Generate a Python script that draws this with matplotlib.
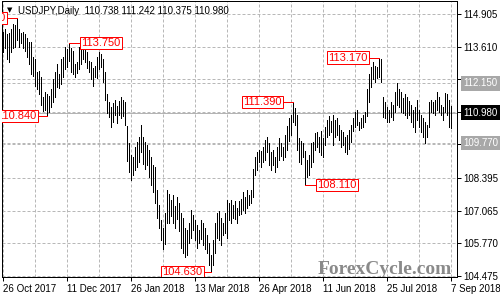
import matplotlib
matplotlib.use('Agg')
import matplotlib.pyplot as plt
from matplotlib.transforms import blended_transform_factory

symbol = 'USDJPY,Daily'
last_ohlc = ['110.738', '111.242', '110.375', '110.980']

# daily high / low, one per trading day from 26 Oct 2017 to 7 Sep 2018
highs = [
    114.20, 114.30, 114.10, 114.15, 114.30, 114.50, 114.45, 114.73, 114.30, 114.15,
    114.20, 114.10, 113.95, 113.80, 113.80, 113.20, 113.10, 112.60, 112.65, 112.40,
    111.60, 111.80, 111.70, 111.65, 111.90, 112.30, 112.60, 112.90, 112.50, 113.10,
    113.20, 113.60, 113.50, 113.75, 113.55, 113.45, 112.90, 113.00, 113.60, 113.50,
    113.65, 113.55, 113.40, 113.05, 113.00, 112.75, 112.85, 113.20, 113.40, 113.30,
    113.10, 112.60, 111.70, 111.40, 111.20, 111.35, 111.50, 111.25, 111.45, 111.60,
    111.50, 111.40, 110.45, 109.75, 109.30, 109.20, 109.60, 109.80, 110.00, 110.48,
    110.00, 109.80, 109.70, 109.50, 109.20, 108.90, 108.80, 107.90, 107.30, 106.70,
    106.40, 107.00, 107.90, 107.75, 107.50, 107.70, 107.25, 107.60, 107.40, 107.00,
    106.80, 106.40, 106.30, 106.60, 107.10, 106.90, 106.70, 106.50, 106.30, 106.70,
    106.60, 106.40, 106.10, 105.80, 105.30, 105.90, 106.60, 107.00, 107.05, 106.80,
    106.60, 107.00, 107.50, 107.40, 107.50, 107.30, 107.45, 107.20, 107.45, 107.55,
    107.80, 107.60, 107.90, 107.70, 107.90, 108.75, 109.20, 109.40, 109.50, 109.45,
    109.60, 109.90, 110.00, 109.75, 109.40, 109.50, 109.20, 109.60, 109.95, 109.75,
    109.60, 110.10, 110.45, 110.75, 110.90, 111.39, 111.15, 110.90, 109.95, 109.85,
    109.75, 109.45, 109.10, 109.30, 109.75, 109.80, 110.15, 110.20, 110.00, 110.25,
    109.95, 110.40, 110.70, 110.85, 110.65, 110.90, 110.70, 110.75, 110.50, 110.30,
    110.20, 110.00, 110.10, 110.30, 110.50, 110.75, 111.00, 111.10, 110.60, 110.75,
    110.90, 111.00, 111.90, 112.50, 112.80, 113.00, 112.85, 112.80, 113.17, 113.10,
    111.60, 111.40, 111.20, 111.10, 111.40, 111.30, 111.80, 112.15, 111.90, 111.80,
    111.55, 111.70, 111.60, 111.45, 111.30, 111.10, 111.20, 111.50, 111.10, 110.90,
    110.75, 110.60, 110.50, 111.40, 111.50, 111.40, 111.50, 111.80, 111.60, 111.30,
    111.20, 111.75, 111.70, 111.50, 111.24,
]
lows = [
    113.40, 113.55, 113.10, 113.00, 113.40, 113.55, 113.60, 113.85, 113.60, 113.75,
    113.55, 113.45, 113.20, 112.90, 112.50, 112.45, 112.05, 111.90, 111.70, 111.30,
    111.05, 111.10, 110.84, 111.00, 111.20, 111.40, 111.60, 112.00, 111.95, 112.10,
    112.40, 112.70, 112.80, 113.05, 112.60, 112.50, 112.40, 112.55, 112.70, 112.90,
    113.10, 113.00, 112.75, 112.60, 112.30, 112.05, 112.40, 112.35, 112.70, 112.80,
    112.20, 111.50, 110.95, 110.80, 110.40, 110.60, 110.90, 110.55, 110.90, 110.75,
    110.85, 110.50, 109.05, 108.60, 108.28, 108.50, 108.70, 108.80, 109.00, 109.40,
    108.95, 108.75, 108.90, 108.40, 108.10, 107.80, 107.40, 106.80, 106.40, 105.90,
    105.55, 105.75, 106.60, 106.60, 106.85, 106.60, 106.40, 106.75, 106.25, 105.60,
    105.40, 105.24, 105.30, 105.80, 106.00, 106.30, 105.90, 105.60, 105.80, 105.95,
    105.70, 105.55, 105.40, 104.90, 104.63, 104.90, 105.40, 106.00, 105.90, 105.70,
    106.10, 106.20, 106.00, 106.70, 106.60, 106.80, 106.75, 106.60, 106.90, 106.95,
    107.10, 107.00, 107.20, 107.30, 107.40, 107.60, 108.50, 108.70, 109.00, 108.80,
    109.00, 109.10, 109.40, 108.90, 108.70, 108.90, 108.60, 108.80, 109.10, 109.25,
    109.10, 109.20, 109.50, 109.85, 110.10, 110.60, 110.50, 109.50, 109.00, 108.95,
    109.20, 108.11, 108.40, 108.50, 108.80, 109.00, 109.50, 109.60, 109.40, 109.30,
    109.20, 109.70, 110.00, 110.10, 110.20, 109.70, 110.00, 110.10, 109.90, 109.60,
    109.70, 109.40, 109.35, 109.55, 109.80, 110.25, 110.40, 110.50, 110.30, 110.35,
    110.40, 110.60, 110.85, 111.40, 112.00, 112.30, 112.20, 112.35, 112.40, 112.20,
    110.80, 110.75, 110.60, 110.60, 110.80, 110.70, 111.00, 111.30, 111.20, 111.00,
    110.95, 110.90, 110.75, 110.90, 110.60, 110.40, 110.20, 110.70, 110.40, 110.20,
    110.00, 109.77, 110.00, 110.40, 111.00, 110.95, 110.90, 111.10, 111.00, 110.90,
    110.70, 111.00, 110.90, 110.40, 110.38,
]

date_labels = ['26 Oct 2017', '11 Dec 2017', '26 Jan 2018', '13 Mar 2018',
               '26 Apr 2018', '11 Jun 2018', '25 Jul 2018', '7 Sep 2018']
date_label_bars = [0, 32, 64, 96, 128, 160, 192, 224]
grid_bars = list(range(0, 225, 16))

# grid levels; the ones under the price boxes carry no label
price_ticks = [114.905, 113.610, 112.315, 111.020, 109.725, 108.395, 107.065, 105.770, 104.475]
price_tick_labels = ['114.905', '113.610', '', '', '', '108.395', '107.065', '105.770', '104.475']

level_prices = [112.150, 109.770]
last_price = 110.980

swing_bars = [7, 33, 22, 104, 145, 151, 188]
swing_prices = [114.730, 113.750, 110.840, 104.630, 111.390, 108.110, 113.170]

FONT = 'Liberation Sans'
PX = 0.72  # one pixel in points at dpi 100


def draw_chart():
    fig = plt.figure(figsize=(5, 3), dpi=100)
    ax = fig.add_axes([2 / 500, 23 / 300, 455 / 500, 276 / 300])

    grid_kw = dict(color='#b8b8b8', linewidth=PX, linestyle=(0, (3, 2)), zorder=1)
    for b in grid_bars:
        ax.axvline(b, **grid_kw)
    for p in price_ticks:
        ax.axhline(p, **grid_kw)
    for p in level_prices:
        ax.axhline(p, **grid_kw)
    ax.axhline(last_price, color='#b4b4b4', linewidth=PX, zorder=1)

    ax.vlines(range(len(highs)), lows, highs, colors='black', linewidth=PX,
              antialiased=False, zorder=3)

    ax.set_xlim(-0.5, 227)
    ax.set_ylim(104.435, 115.422)

    for s in ax.spines.values():
        s.set_linewidth(PX)
        s.set_color('black')

    ax.yaxis.tick_right()
    ax.set_yticks(price_ticks)
    ax.set_yticklabels(price_tick_labels, fontsize=7, family=FONT)
    ax.set_xticks(date_label_bars)
    ax.set_xticklabels(date_labels, fontsize=7, family=FONT, ha='left')
    ax.tick_params(axis='y', direction='out', length=2.9, width=PX, pad=2)
    ax.tick_params(axis='x', direction='out', length=2.9, width=PX, pad=2.5)

    # swing high / low labels, clipped at the chart edge like the terminal does
    offsets = [-5, 5.5, -4.5, -3.5, -5, 5.5, -5]
    for b, p, off in zip(swing_bars, swing_prices, offsets):
        edge = b + off
        ax.plot([b, edge], [p, p], color='red', linewidth=PX, zorder=4)
        ax.text(edge + (0.7 if off > 0 else -0.7), p, f'{p:.3f}',
                ha='left' if off > 0 else 'right', va='center',
                fontsize=8, family=FONT, color='red', zorder=5, clip_on=True,
                bbox=dict(boxstyle='square,pad=0.1', fc='white', ec='red', lw=PX))

    # price boxes on the right axis
    tr = blended_transform_factory(ax.transAxes, ax.transData)
    boxes = [(level_prices[0], '#a8a8a8'), (last_price, 'black'), (level_prices[1], '#a8a8a8')]
    for p, fc in boxes:
        ax.text(1 + 6 / 455, p, f'{p:.3f}', transform=tr, ha='left', va='center',
                fontsize=7, family=FONT, color='white', clip_on=False, zorder=10,
                bbox=dict(boxstyle='square,pad=0.25', fc=fc, ec='none'))

    ax.text((452 - 2) / 455, 3 / 276, 'ForexCycle.com', transform=ax.transAxes,
            ha='right', va='baseline', fontsize=14, fontweight='bold',
            family='Liberation Serif', color='#8a8a8a', zorder=2)

    fig.text(9.5 / 500, 1 - 10 / 300, '\u25bc', fontsize=5, ha='center', va='center',
             family='DejaVu Sans')
    fig.text(18 / 500, 1 - 11 / 300, symbol + '  ' + ' '.join(last_ohlc),
             fontsize=7, family=FONT, va='center', ha='left')

    fig.savefig('out.png', dpi=100)
    plt.close(fig)


if __name__ == '__main__':
    draw_chart()
